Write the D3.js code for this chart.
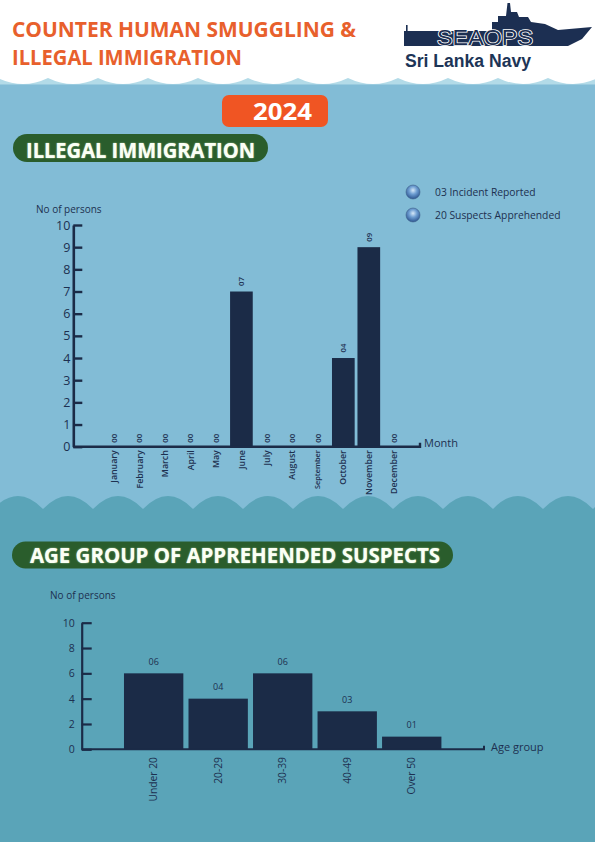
<!DOCTYPE html>
<html><head><meta charset="utf-8">
<script src="https://cdn.jsdelivr.net/npm/d3@7"></script>
<style>body{margin:0;background:#fff;} svg{display:block;font-family:'Open Sans',sans-serif;}</style>
</head><body><svg id="c" width="595" height="842"></svg>
<script>
// ---- data ----
const months = ["January","February","March","April","May","June","July","August","September","October","November","December"];
const monthValues = [0,0,0,0,0,7,0,0,0,4,9,0];
const yTicks1 = [0,1,2,3,4,5,6,7,8,9,10];
const ageGroups = ["Under 20","20-29","30-39","40-49","Over 50"];
const ageValues = [6,4,6,3,1];
const yTicks2 = [0,2,4,6,8,10];
const legendItems = ["03 Incident Reported","20 Suspects Apprehended"];
const titleLines = ["COUNTER HUMAN SMUGGLING  &","ILLEGAL IMMIGRATION"];
const yearLabel = "2024";
const section1 = "ILLEGAL IMMIGRATION";
const section2 = "AGE GROUP OF APPREHENDED SUSPECTS";

const NAVY = "#1b2b47", TEXT = "#1d3050";
const fmt = d3.format("02d");
const svg = d3.select("#c");
const defs = svg.append("defs");
const g1 = defs.append("radialGradient").attr("id","ball").attr("cx","50%").attr("cy","38%").attr("r","62%");
g1.append("stop").attr("offset","0%").attr("stop-color","#d6e8f8");
g1.append("stop").attr("offset","45%").attr("stop-color","#6e9ed2");
g1.append("stop").attr("offset","100%").attr("stop-color","#2c5590");

// ---- backgrounds ----
svg.append("rect").attr("width",595).attr("height",842).attr("fill","#fff");
svg.append("rect").attr("y",74).attr("width",595).attr("height",12).attr("fill","#b3dbe8");
{
  let p = "M0,0 L595,0 L595,78";
  const cusps = d3.range(-2, 650, 50).reverse();
  cusps.forEach((c,i)=>{ if(i>0){ const prev = cusps[i-1]; p += ` Q${(prev+c)/2},90 ${c},78`; } else p += ` L${c},78`; });
  p += " L0,78 Z";
  svg.append("path").attr("d",p).attr("fill","#fff");
}
svg.append("rect").attr("y",84.5).attr("width",595).attr("height",760).attr("fill","#82bcd6");
{
  let p = "M-7,509";
  const cusps = d3.range(-7, 660, 50);
  cusps.forEach((c,i)=>{ if(i>0){ const prev = cusps[i-1]; p += ` Q${(prev+c)/2},483 ${c},509`; } });
  p += " L660,842 L-7,842 Z";
  svg.append("path").attr("d",p).attr("fill","#5aa4b8");
}

// ---- header ----
svg.append("text").attr("x",12).attr("y",36.5).attr("textLength",344).attr("lengthAdjust","spacingAndGlyphs")
  .attr("font-size",21).attr("font-weight",700).attr("fill","#e8602c").text(titleLines[0]);
svg.append("text").attr("x",12).attr("y",65).attr("textLength",230).attr("lengthAdjust","spacingAndGlyphs")
  .attr("font-size",21).attr("font-weight",700).attr("fill","#e8602c").text(titleLines[1]);

// logo
svg.append("path").attr("fill","#1c2f52")
  .attr("d","M404,31 L492,31 L492,22 L498,22 L498,16 L506,16 L507.5,3 L510,3 L511,12 L517,12 L519,17 L528,17 L531,22 L545,24 L558,30 L592,27 L582,39 L568,46 L404,46 Z M406,25 h1.6 v6 h-1.6 Z");
svg.append("text").attr("x",437).attr("y",45).attr("textLength",96).attr("lengthAdjust","spacingAndGlyphs")
  .attr("font-family","'Liberation Sans',sans-serif")
  .attr("font-size",22).attr("fill","#1c2f52").attr("stroke","#fff").attr("stroke-width",1.6)
  .attr("paint-order","stroke").text("SEAOPS");
svg.append("text").attr("x",405).attr("y",66.5).attr("textLength",126).attr("lengthAdjust","spacingAndGlyphs")
  .attr("font-family","'Liberation Sans',sans-serif")
  .attr("font-size",18).attr("font-weight",700).attr("fill","#1d3557").text("Sri Lanka Navy");

// year badge
svg.append("rect").attr("x",222).attr("y",95).attr("width",106).attr("height",32).attr("rx",7).attr("fill","#f05523");
svg.append("text").attr("x",253).attr("y",120).attr("textLength",59).attr("lengthAdjust","spacingAndGlyphs")
  .attr("font-size",24).attr("font-weight",700).attr("fill","#fff").text(yearLabel);

// section pills
function pill(x,y,w,h,tx,ty,tl,label){
  svg.append("rect").attr("x",x).attr("y",y).attr("width",w).attr("height",h).attr("rx",h/2).attr("fill","#2a5d2c");
  svg.append("text").attr("x",tx).attr("y",ty).attr("textLength",tl).attr("lengthAdjust","spacingAndGlyphs")
    .attr("font-size",22).attr("font-weight",700).attr("fill","#fbfff5")
    .style("text-shadow","0 0 1.5px #cfe8c0").text(label);
}
pill(13,134,255,28,26,157.5,229,section1);
pill(12,541.5,441,27,30,562.5,410,section2);

// ---- chart 1 ----
const y1 = d3.scaleLinear().domain([0,10]).range([446.7,225]);
const x1 = d3.scaleBand().domain(months).range([101.4,406.9]).paddingInner(0.11).paddingOuter(0.05);
const c1 = svg.append("g");
c1.append("text").attr("x",36).attr("y",213).attr("font-size",10).attr("fill",TEXT).text("No of persons");
const ya1 = c1.append("g").attr("transform","translate(73.3,0)")
  .call(d3.axisLeft(y1).tickValues(yTicks1).tickSizeInner(-9).tickSizeOuter(0).tickPadding(3));
ya1.select(".domain").attr("stroke",NAVY).attr("stroke-width",2.6);
ya1.selectAll(".tick line").attr("stroke",NAVY).attr("stroke-width",2.4);
ya1.selectAll(".tick text").attr("font-size",12.5).attr("fill",TEXT).attr("font-family","'Open Sans',sans-serif");

c1.selectAll("rect.bar").data(monthValues).join("rect").attr("class","bar")
  .attr("x",(d,i)=>x1(months[i])).attr("width",x1.bandwidth())
  .attr("y",d=>y1(d)).attr("height",d=>y1(0)-y1(d)).attr("fill",NAVY);
c1.selectAll("text.val").data(monthValues).join("text").attr("class","val")
  .attr("transform",(d,i)=>`translate(${x1(months[i])+x1.bandwidth()/2},${y1(d)-(d>0?5.5:4)}) rotate(-90)`)
  .attr("dy","0.35em").attr("font-size",7.8).attr("font-weight",600).attr("fill",TEXT).text(d=>fmt(d));

const xa1 = c1.append("g").attr("transform",`translate(0,${y1(0)})`)
  .call(d3.axisBottom(x1).tickSize(0).tickPadding(0));
xa1.select(".domain").remove();
xa1.selectAll(".tick text").attr("transform","rotate(-90)").attr("text-anchor","end")
  .attr("x",-3.5).attr("y",0).attr("dy","0.35em").attr("fill",TEXT).attr("font-weight",600)
  .attr("font-family","'Open Sans',sans-serif").attr("font-size",d=>d==="September"?7.3:8.8);
c1.append("path").attr("d",`M73.3,${y1(0)} H420 V${y1(0)-4}`).attr("fill","none").attr("stroke",NAVY).attr("stroke-width",2.4);
c1.append("text").attr("x",424).attr("y",447).attr("font-size",11).attr("fill",TEXT).text("Month");

// legend
const lg = svg.append("g");
legendItems.forEach((t,i)=>{
  lg.append("circle").attr("cx",413).attr("cy",192+i*23).attr("r",7).attr("fill","url(#ball)").attr("stroke","#3f628c").attr("stroke-width",0.6);
  lg.append("text").attr("x",435).attr("y",195.5+i*23).attr("font-size",10.3).attr("fill",TEXT).text(t);
});

// ---- chart 2 ----
const y2 = d3.scaleLinear().domain([0,10]).range([749.3,622.7]);
const x2 = d3.scaleBand().domain(ageGroups).range([121.4,444]).paddingInner(0.08).paddingOuter(0.04);
const c2 = svg.append("g");
c2.append("text").attr("x",50).attr("y",599).attr("font-size",10).attr("fill",TEXT).text("No of persons");
const ya2 = c2.append("g").attr("transform","translate(81.7,0)")
  .call(d3.axisLeft(y2).tickValues(yTicks2).tickSizeInner(-10).tickSizeOuter(0).tickPadding(7));
ya2.select(".domain").attr("stroke",NAVY).attr("stroke-width",2.2);
ya2.selectAll(".tick line").attr("stroke",NAVY).attr("stroke-width",2.2);
ya2.selectAll(".tick text").attr("font-size",10.5).attr("fill",TEXT).attr("font-family","'Open Sans',sans-serif");

c2.selectAll("rect.bar").data(ageValues).join("rect").attr("class","bar")
  .attr("x",(d,i)=>x2(ageGroups[i])).attr("width",x2.bandwidth())
  .attr("y",d=>y2(d)).attr("height",d=>y2(0)-y2(d)).attr("fill",NAVY);
c2.selectAll("text.val").data(ageValues).join("text").attr("class","val")
  .attr("x",(d,i)=>x2(ageGroups[i])+x2.bandwidth()/2).attr("y",d=>y2(d)-8.3)
  .attr("text-anchor","middle").attr("font-size",9).attr("fill",TEXT).text(d=>fmt(d));
const xa2 = c2.append("g").attr("transform",`translate(0,${y2(0)})`)
  .call(d3.axisBottom(x2).tickSize(0).tickPadding(0));
xa2.select(".domain").remove();
xa2.selectAll(".tick text").attr("transform","rotate(-90)").attr("text-anchor","end")
  .attr("x",-7.7).attr("y",0).attr("dy","0.35em").attr("fill",TEXT)
  .attr("font-family","'Open Sans',sans-serif").attr("font-size",10.3);
c2.append("path").attr("d",`M81.7,${y2(0)} H484 V${y2(0)-3.5}`).attr("fill","none").attr("stroke",NAVY).attr("stroke-width",2);
c2.append("text").attr("x",491).attr("y",751).attr("font-size",11).attr("fill",TEXT).text("Age group");
</script></body></html>
